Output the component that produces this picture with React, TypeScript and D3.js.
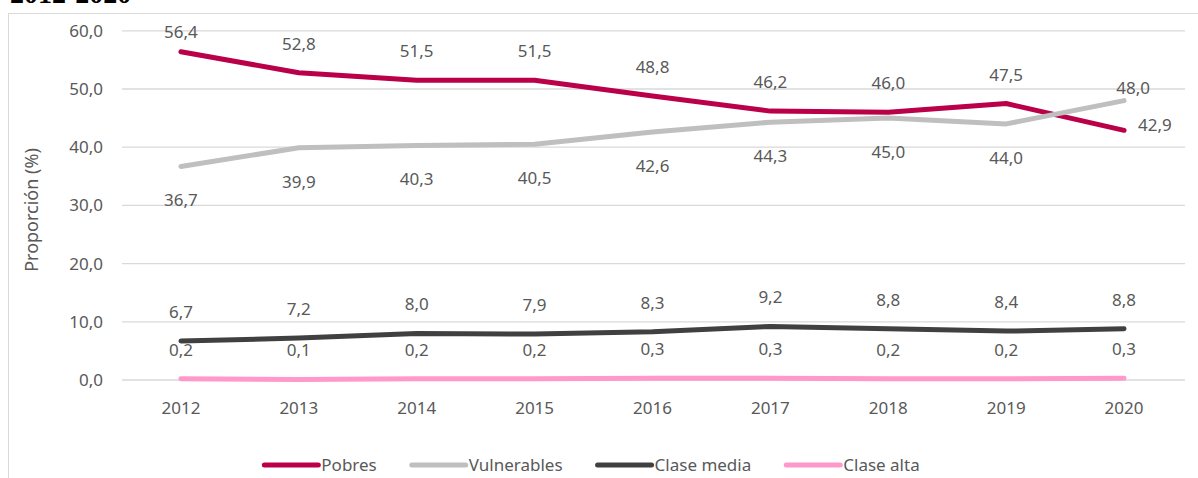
import React, {useRef, useEffect} from "react";
import * as d3 from "d3";

// data
const years = ["2012", "2013", "2014", "2015", "2016", "2017", "2018", "2019", "2020"];
const pobres = [56.4, 52.8, 51.5, 51.5, 48.8, 46.2, 46.0, 47.5, 42.9];
const vulnerables = [36.7, 39.9, 40.3, 40.5, 42.6, 44.3, 45.0, 44.0, 48.0];
const claseMedia = [6.7, 7.2, 8.0, 7.9, 8.3, 9.2, 8.8, 8.4, 8.8];
const claseAlta = [0.2, 0.1, 0.2, 0.2, 0.3, 0.3, 0.2, 0.2, 0.3];
const yTicks = [0, 10, 20, 30, 40, 50, 60];

// where each data label sits relative to its point
const pobresLabels = ["above", "above", "above", "above", "above", "above", "above", "above", "right"];
const vulnerablesLabels = ["below", "below", "below", "below", "below", "below", "below", "below", "aboveRight"];
const claseMediaLabels = years.map(() => "above");
const claseAltaLabels = years.map(() => "above");

const series = [
  {name: "Pobres", values: pobres, labels: pobresLabels, color: "#BA0049"},
  {name: "Vulnerables", values: vulnerables, labels: vulnerablesLabels, color: "#BFBFBF"},
  {name: "Clase media", values: claseMedia, labels: claseMediaLabels, color: "#404040"},
  {name: "Clase alta", values: claseAlta, labels: claseAltaLabels, color: "#FF99CC"},
];

const W = 1198;
const H = 478;
const FONT = "'Noto Sans', 'Open Sans', sans-serif";
const TEXT = "#595959";

const fmt = (v: number) => d3.format(".1f")(v).replace(".", ",");

const App = () => {
  const svgRef = useRef<SVGSVGElement>(null);

  useEffect(() => {
    const svg = d3.select(svgRef.current);
    svg.selectAll("*").remove();

    // heading above the chart, cut off by the top edge as in the source
    svg
      .append("text")
      .attr("x", 10)
      .attr("y", 3)
      .style("font-family", "'Liberation Serif', 'Times New Roman', serif")
      .style("font-weight", "bold")
      .style("font-size", "28px")
      .style("fill", "#000")
      .text("2012-2020");

    // chart frame
    svg
      .append("rect")
      .attr("x", 8.5)
      .attr("y", 13.5)
      .attr("width", W + 20)
      .attr("height", H + 20)
      .attr("fill", "none")
      .attr("stroke", "#D9D9D9");

    const xScale = d3.scaleBand().domain(years).range([122, 1183]);
    const xPos = (y: string) => (xScale(y) as number) + xScale.bandwidth() / 2;
    const yScale = d3.scaleLinear().domain([0, 60]).range([380, 30.8]);

    // gridlines
    svg
      .append("g")
      .selectAll("line")
      .data(yTicks)
      .enter()
      .append("line")
      .attr("x1", 122)
      .attr("x2", 1185)
      .attr("y1", (d) => yScale(d))
      .attr("y2", (d) => yScale(d))
      .attr("stroke", "#D9D9D9")
      .attr("stroke-width", 1.3);

    // y tick labels
    svg
      .append("g")
      .selectAll("text")
      .data(yTicks)
      .enter()
      .append("text")
      .attr("x", 103)
      .attr("y", (d) => yScale(d))
      .attr("dy", "0.35em")
      .attr("text-anchor", "end")
      .style("font-family", FONT)
      .style("font-size", "17px")
      .style("fill", TEXT)
      .text((d) => fmt(d));

    // x tick labels
    svg
      .append("g")
      .selectAll("text")
      .data(years)
      .enter()
      .append("text")
      .attr("x", (d) => xPos(d))
      .attr("y", 408)
      .attr("dy", "0.35em")
      .attr("text-anchor", "middle")
      .style("font-family", FONT)
      .style("font-size", "17px")
      .style("fill", TEXT)
      .text((d) => d);

    // y axis title
    svg
      .append("text")
      .attr("transform", "translate(32, 210) rotate(-90)")
      .attr("text-anchor", "middle")
      .attr("dy", "0.35em")
      .style("font-family", FONT)
      .style("font-size", "18px")
      .style("fill", TEXT)
      .text("Proporción (%)");

    // lines
    const line = d3
      .line<number>()
      .x((d, i) => xPos(years[i]))
      .y((d) => yScale(d));

    series.forEach((s) => {
      svg
        .append("path")
        .datum(s.values)
        .attr("d", line)
        .attr("fill", "none")
        .attr("stroke", s.color)
        .attr("stroke-width", 5)
        .attr("stroke-linecap", "round")
        .attr("stroke-linejoin", "round");
    });

    // data labels
    series.forEach((s) => {
      svg
        .append("g")
        .selectAll("text")
        .data(s.values)
        .enter()
        .append("text")
        .attr("x", (d, i) => {
          const x = xPos(years[i]);
          if (s.labels[i] === "right") return x + 14;
          if (s.labels[i] === "aboveRight") return x + 9;
          return x;
        })
        .attr("y", (d, i) => {
          const y = yScale(d);
          if (s.labels[i] === "above") return Math.max(32, y - 29);
          if (s.labels[i] === "below") return y + 34;
          if (s.labels[i] === "aboveRight") return y - 13;
          return y - 5;
        })
        .attr("dy", "0.35em")
        .attr("text-anchor", (d, i) => (s.labels[i] === "right" ? "start" : "middle"))
        .style("font-family", FONT)
        .style("font-size", "17px")
        .style("fill", TEXT)
        .text((d) => fmt(d));
    });

    // legend
    const legend = svg.append("g");
    const items = legend
      .selectAll("g")
      .data(series)
      .enter()
      .append("g");
    items
      .append("line")
      .attr("x1", 0)
      .attr("x2", 54)
      .attr("y1", 0)
      .attr("y2", 0)
      .attr("stroke", (d) => d.color)
      .attr("stroke-width", 5)
      .attr("stroke-linecap", "round");
    const labels = items
      .append("text")
      .attr("x", 57)
      .attr("dy", "0.35em")
      .style("font-family", FONT)
      .style("font-size", "17px")
      .style("fill", TEXT)
      .text((d) => d.name);

    const gap = 35;
    let cursor = 0;
    const offsets: number[] = [];
    labels.each(function () {
      offsets.push(cursor);
      cursor += 57 + (this as SVGTextElement).getComputedTextLength() + gap;
    });
    const total = cursor - gap;
    const start = 592 - total / 2;
    items.attr("transform", (d, i) => `translate(${start + offsets[i]}, 465)`);
  }, []);

  return (
    <div style={{position: "absolute", left: 0, top: 0}}>
      <svg ref={svgRef} width={W} height={H} style={{display: "block", background: "#fff"}}></svg>
    </div>
  );
};

export default App;
